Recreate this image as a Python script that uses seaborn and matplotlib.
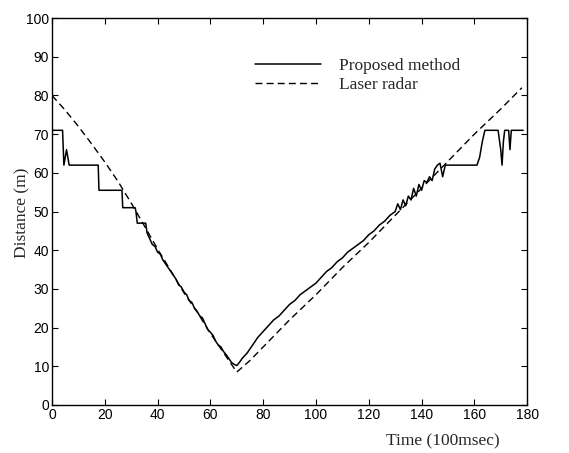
import matplotlib
matplotlib.use("Agg")
import matplotlib.pyplot as plt
import seaborn as sns
import pandas as pd

# Proposed method (solid)
prop_t = [0, 4, 4.5, 5.5, 6.5, 17.5, 17.8, 26.5, 26.8, 31.5, 31.8, 32.3, 35.5, 36, 37, 38, 39, 40,
          41, 42, 43, 44, 45, 46, 47, 48, 49, 50, 51, 52, 53, 54, 55, 56, 57, 58, 59, 60,
          61, 62, 63, 64, 65, 66, 67, 68, 69, 70, 71, 72,
          74, 76, 78, 80, 82, 84, 86, 88, 90, 92, 94, 96, 98, 100, 102, 104, 106, 108, 110,
          112, 114, 116, 118, 120, 122, 124, 126, 128, 130, 131, 132, 133, 134, 135, 136, 137,
          138, 139, 140, 141, 142, 143, 144, 145, 146, 147, 148, 149, 161, 162, 163, 164, 169,
          170, 170.5, 171, 171.5, 173, 173.5, 174, 178.5]
prop_d = [71, 71, 62, 66, 62, 62, 55.5, 55.5, 51, 51, 50, 47, 47, 44.5, 43, 41.5, 41, 39.5,
          39, 37.5, 36.5, 35.5, 34.5, 33.5, 32.5, 31, 30.5, 29.2, 28.5, 27, 26.5, 25, 24.2, 23, 22.5, 21, 19.5, 18.8,
          18, 16.5, 15.5, 15, 13.8, 13, 12, 11, 10.5, 10.2, 11, 12,
          13.5, 15.5, 17.5, 19, 20.5, 22, 23, 24.5, 26, 27, 28.5, 29.5, 30.5, 31.5, 33, 34.5, 35.5, 37, 38,
          39.5, 40.5, 41.5, 42.5, 44, 45, 46.5, 47.5, 49, 50, 52, 50.5, 53, 51.5, 54, 53, 56,
          54, 57, 55.5, 58, 57.5, 59, 58, 61, 62, 62.5, 59, 62, 62, 64, 68, 71, 71,
          66, 62, 68, 71, 71, 66, 71, 71]

# Laser radar (dashed)
laser_t = [0, 5, 10, 15, 20, 25, 30, 35, 40, 45, 50, 55, 60, 65, 70, 75, 80, 90, 100, 110,
           120, 130, 140, 150, 160, 170, 178]
laser_d = [80, 76.2, 72, 67.5, 62.8, 57.8, 52.2, 46.3, 40.3, 34.7, 29, 24, 18.5, 13.5, 8.5, 11.5,
           15, 22, 28.5, 35.5, 42, 49, 56, 63, 70, 76.5, 82]

xticks = [0, 20, 40, 60, 80, 100, 120, 140, 160, 180]
yticks = [0, 10, 20, 30, 40, 50, 60, 70, 80, 90, 100]

sns.set_style("ticks")
plt.rcParams['font.family'] = ['Liberation Serif', 'DejaVu Serif']

fig = plt.figure(figsize=(5.69, 4.53), dpi=100)
ax = fig.add_axes([0.0914, 0.106, 0.835, 0.854])

df_p = pd.DataFrame({"t": prop_t, "d": prop_d})
df_l = pd.DataFrame({"t": laser_t, "d": laser_d})

sns.lineplot(data=df_p, x="t", y="d", ax=ax, color="black", lw=1.1,
             label="Proposed method", estimator=None, sort=False)
sns.lineplot(data=df_l, x="t", y="d", ax=ax, color="black", lw=1.0,
             label="Laser radar", estimator=None, sort=False, linestyle=(0, (5, 3)))

ax.set_xlim(0, 180)
ax.set_ylim(0, 100)
ax.set_xticks(xticks)
ax.set_yticks(yticks)
tick_font = dict(family='Liberation Sans', size=10)
ax.set_xticklabels([str(v) for v in xticks], fontdict=tick_font)
ax.set_yticklabels([str(v) for v in yticks], fontdict=tick_font)
ax.tick_params(direction='in', length=4, width=0.8, top=True, right=True, pad=2,
               colors='black')
for s in ax.spines.values():
    s.set_linewidth(1.0)
    s.set_color('black')
    s.set_visible(True)

ax.set_xlabel("")
ax.set_ylabel("")
fig.text(0.778, 0.026, "Time (100msec)", ha='center', va='center', fontsize=12.5)
fig.text(0.04, 0.53, "Distance (m)", ha='center', va='center', rotation=90, fontsize=12.5)

leg = ax.legend(loc='upper left', bbox_to_anchor=(0.41, 0.92), frameon=False,
                fontsize=12.5, handlelength=3.8, handletextpad=1.0, labelspacing=0.15,
                borderpad=0)

fig.savefig("out.png", dpi=100)
